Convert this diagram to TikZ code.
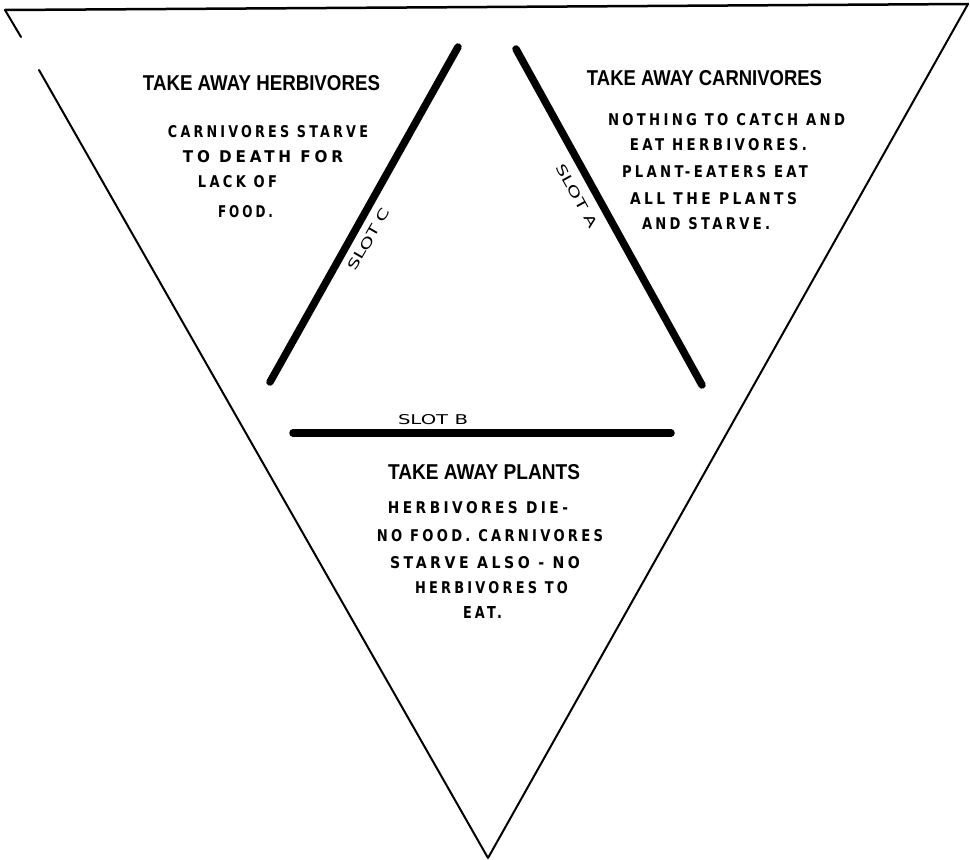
\documentclass[tikz,border=0pt]{standalone}
\usepackage{fontspec}
\usepackage{graphicx}
\setmainfont{Liberation Sans}
\newfontfamily\titlefont{Liberation Sans}
\newfontfamily\bodyfont{DejaVu Sans}[LetterSpace=25]
\newfontfamily\handfont{DejaVu Sans}
\newcommand{\fitline}[3]{\resizebox{#1pt}{#2pt}{#3}}
\tikzset{
  ttl/.style={inner sep=0pt, font=\titlefont\bfseries},
  bodyline/.style={inner sep=0pt, font=\bodyfont\bfseries},
  slotlbl/.style={inner sep=0pt, font=\handfont},
  slotline/.style={line width=7.5pt, line cap=round},
  edgeline/.style={line width=2pt, line cap=round, line join=round}
}
\begin{document}
\begin{tikzpicture}[x=1pt,y=-1pt]
\fill[white] (0,0) rectangle (970,860);
\useasboundingbox (0,0) rectangle (970,860);
% outer triangle
\coordinate (tl) at (5,10);
\coordinate (tr) at (968,4);
\coordinate (apex) at (488,858);
\coordinate (gapA) at (21,37);
\coordinate (gapB) at (39,70);
\draw[edgeline, line width=2.5pt] (tl) -- (tr);
\draw[edgeline] (tl) -- (gapA);
\draw[edgeline] (gapB) -- (apex) -- (tr);
% slots
\coordinate (c1) at (270,382);
\coordinate (c2) at (458,47);
\coordinate (a1) at (516,49);
\coordinate (a2) at (702,385);
\coordinate (b1) at (293,433);
\coordinate (b2) at (671,433);
\draw[slotline] (c1) -- (c2);
\draw[slotline] (a1) -- (a2);
\draw[slotline] (b1) -- (b2);
\node[slotlbl, rotate=60] (slotC) at (369,239) {\fitline{70}{10}{SLOT C}};
\node[slotlbl, rotate=-61] (slotA) at (577,196) {\fitline{70}{10}{SLOT A}};
\node[slotlbl] (slotB) at (433,420) {\fitline{70}{10}{SLOT B}};
% left block
\node[ttl] (th) at (261.5,83) {\fitline{237}{15}{TAKE AWAY HERBIVORES}};
\node[bodyline] (h1) at (268,131.5) {\fitline{200}{12}{CARNIVORES STARVE}};
\node[bodyline] (h2) at (263,156.5) {\fitline{160}{12}{TO DEATH FOR}};
\node[bodyline] (h3) at (237.5,181.5) {\fitline{79}{12}{LACK OF}};
\node[bodyline] (h4) at (245.5,211.5) {\fitline{55}{12}{FOOD.}};
% right block
\node[ttl] (tc) at (704.5,78) {\fitline{235}{15}{TAKE AWAY CARNIVORES}};
\node[bodyline] (c1t) at (726.5,120) {\fitline{237}{12}{NOTHING TO CATCH AND}};
\node[bodyline] (c2t) at (718.5,145) {\fitline{177}{12}{EAT HERBIVORES.}};
\node[bodyline] (c3t) at (715,171.5) {\fitline{186}{12}{PLANT-EATERS EAT}};
\node[bodyline] (c4t) at (713.5,198.5) {\fitline{167}{12}{ALL THE PLANTS}};
\node[bodyline] (c5t) at (706,223.5) {\fitline{128}{12}{AND STARVE.}};
% bottom block
\node[ttl] (tp) at (484,472.5) {\fitline{192}{15}{TAKE AWAY PLANTS}};
\node[bodyline] (p1) at (478,507.5) {\fitline{180}{12}{HERBIVORES DIE-}};
\node[bodyline] (p2) at (490,536) {\fitline{226}{12}{NO FOOD. CARNIVORES}};
\node[bodyline] (p3) at (485,562.5) {\fitline{190}{12}{STARVE ALSO - NO}};
\node[bodyline] (p4) at (491.5,587.5) {\fitline{153}{12}{HERBIVORES TO}};
\node[bodyline] (p5) at (482.5,612.5) {\fitline{39}{12}{EAT.}};
\end{tikzpicture}
\end{document}
